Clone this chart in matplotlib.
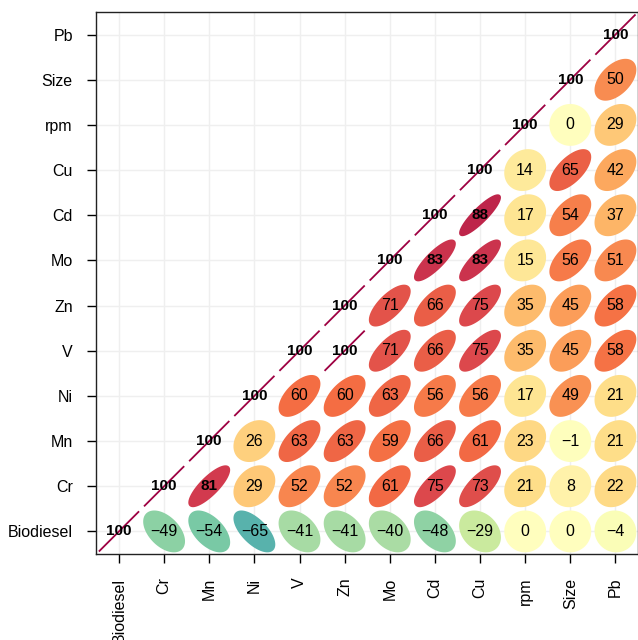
import numpy as np
import matplotlib
matplotlib.use("Agg")
import matplotlib.pyplot as plt

plt.rcParams['font.family'] = ['Liberation Sans', 'DejaVu Sans']

labels = ["Biodiesel", "Cr", "Mn", "Ni", "V", "Zn", "Mo", "Cd", "Cu", "rpm", "Size", "Pb"]

# upper triangle of the correlation matrix (x100), one list per row, after the diagonal
upper = [
    [-49, -54, -65, -41, -41, -40, -48, -29, 0, 0, -4],
    [81, 29, 52, 52, 61, 75, 73, 21, 8, 22],
    [26, 63, 63, 59, 66, 61, 23, -1, 21],
    [60, 60, 63, 56, 56, 17, 49, 21],
    [100, 71, 66, 75, 35, 45, 58],
    [71, 66, 75, 35, 45, 58],
    [83, 83, 15, 56, 51],
    [88, 17, 54, 37],
    [14, 65, 42],
    [0, 29],
    [50],
    [],
]

n = len(labels)
cmap = plt.get_cmap("Spectral_r")
t = 0.445
ang = np.linspace(0, 2 * np.pi, 160)

fig = plt.figure(figsize=(6.38, 6.40), dpi=100)
ax = fig.add_axes([96.4 / 638, 86 / 640, 541.6 / 638, 542 / 640])

for i in range(n):
    cells = [(i, 100)] + [(i + 1 + k, v) for k, v in enumerate(upper[i])]
    for j, v in cells:
        r = v / 100.0
        col = cmap((r + 1) / 2)
        if abs(r) >= 0.999:
            # degenerate ellipse: a straight segment
            ax.plot([j - t, j + t], [i - t * np.sign(r), i + t * np.sign(r)],
                    color=col, lw=1.3, zorder=2, solid_capstyle='butt')
        else:
            d = np.arccos(r)
            ax.fill(j + t * np.cos(ang + d / 2), i + t * np.cos(ang - d / 2),
                    facecolor=col, edgecolor=col, lw=1.2, zorder=2)
        txt = str(v).replace("-", "\u2212")
        strong = abs(v) >= 80
        ax.text(j, i, txt, ha='center', va='center',
                fontsize=11 if strong else 11.5,
                fontweight='bold' if strong else 'normal', zorder=3)

ax.set_xlim(-0.5, n - 0.5)
ax.set_ylim(-0.5, n - 0.5)
ax.set_xticks(range(n))
ax.set_yticks(range(n))
ax.set_xticklabels(labels, rotation=90, va='top')
ax.set_yticklabels(labels)
ax.tick_params(direction='out', length=6.5, width=1, labelsize=11.5, pad=10.5)
ax.grid(True, color='#EFEFEF', lw=1, zorder=0)
ax.set_axisbelow(True)
for s in ax.spines.values():
    s.set_linewidth(1)
    s.set_color('#222222')

fig.savefig("out.png", dpi=100)
